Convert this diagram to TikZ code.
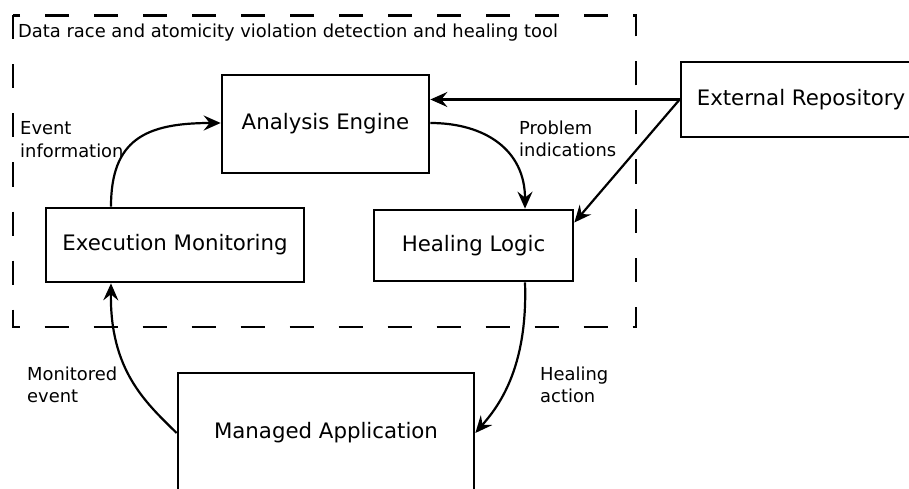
\documentclass[tikz,border=0pt]{standalone}
\usepackage{fontspec}
\setmainfont{DejaVu Sans}
\usetikzlibrary{arrows.meta}

\newcommand{\boxfont}{\fontsize{21.3}{25}\selectfont}
\newcommand{\notefont}{\fontsize{17.9}{22.5}\selectfont}

\tikzset{
  unit/.style={draw, line width=2.7pt, font=\boxfont, inner sep=0pt, align=center},
  note/.style={font=\notefont, inner sep=0pt, align=left},
  flow/.style={line width=2.2pt, -{Stealth[length=17pt,width=15pt,inset=6pt]}},
  toolframe/.style={line width=2.5pt, dash pattern=on 24pt off 25pt}
}

\begin{document}
\begin{tikzpicture}[x=1pt,y=1pt,yscale=-1,xscale=1]
\useasboundingbox (0,0) rectangle (909,489);

%Shape: Dashed frame of the tool
\draw [toolframe] (13,15.5) rectangle (636,327);

%Shape: Boxes
\node [unit, minimum width=207, minimum height=98] (engine) at (325.5,124) {Analysis Engine};
\node [unit, minimum width=258, minimum height=74] (monitor) at (175,245) {Execution Monitoring};
\node [unit, minimum width=199, minimum height=71] (healing) at (473.5,245.5) {Healing Logic};
\node [unit, minimum width=240, minimum height=75] (repo) at (801,99.5) {External Repository};
\node [unit, minimum width=296, minimum height=120] (app) at (326,433) {Managed Application};

%Curves: the control loop
\draw [flow] ([xshift=-64pt]monitor.north) .. controls (111,140) and (145,123) .. ([yshift=-1pt]engine.west);
\draw [flow] ([yshift=-1pt]engine.east) .. controls (485,123) and (525,150) .. ([xshift=51.5pt]healing.north);
\draw [flow] ([xshift=51.5pt]healing.south) .. controls (528,370) and (497,408) .. (app.east);
\draw [flow] (app.west) .. controls (145,402) and (110,370) .. ([xshift=-64pt]monitor.south);

%Straight Lines: from the repository
\draw [flow] (repo.west) -- (engine.east |- repo.west);
\draw [flow] (repo.west) -- ([yshift=-23pt]healing.east);

% Text Node
\node [note, anchor=west] (title) at (18,33) {Data race and atomicity violation detection and healing tool};
% Text Node
\node [note, anchor=north west] (eventinfo) at (20,121.5) {Event\\information};
% Text Node
\node [note, anchor=north west] (problems) at (519,120.5) {Problem\\indications};
% Text Node
\node [note, anchor=north west] (monitored) at (27,366.5) {Monitored\\event};
% Text Node
\node [note, anchor=north west] (action) at (540,366.5) {Healing\\action};
\end{tikzpicture}
\end{document}
